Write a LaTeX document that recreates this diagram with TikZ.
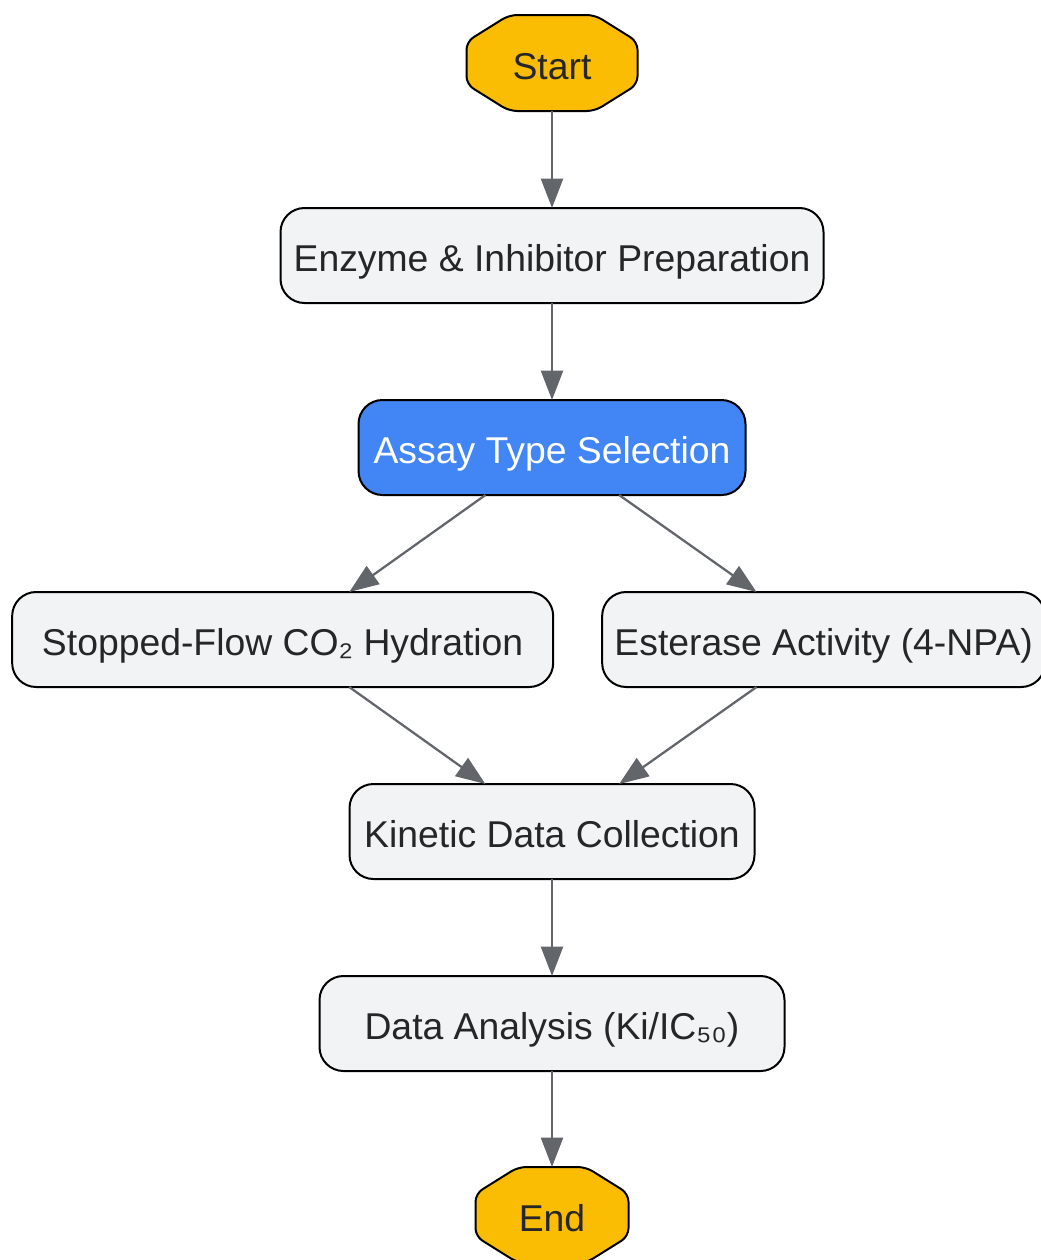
\documentclass[tikz,border=0pt]{standalone}
\usepackage{fontspec}
\setmainfont{Liberation Sans}
\usetikzlibrary{positioning,calc,arrows.meta,backgrounds}

\definecolor{gyellow}{HTML}{FBBC04}
\definecolor{gblue}{HTML}{4285F4}
\definecolor{boxgrey}{HTML}{F1F3F4}
\definecolor{linegrey}{HTML}{62666B}
\definecolor{txtgrey}{HTML}{262626}

\begin{document}
\begin{tikzpicture}[
font=\fontsize{28}{32}\selectfont,
node distance=72.75pt,
box/.style={rectangle, rounded corners=18pt, draw=black, line width=1.5pt, fill=boxgrey, text=txtgrey, minimum height=71.25pt, inner xsep=6pt, outer sep=0pt, text height=26pt, text depth=1.5pt},
selectbox/.style={box, fill=gblue, text=white},
terminal/.style={rectangle, text=txtgrey, minimum height=72pt, outer sep=0pt, text height=26pt, text depth=1.5pt},
octa/.style={draw=black, line width=1.5pt, fill=gyellow, rounded corners=6pt},
flow/.style={draw=linegrey, line width=1.7pt, -{Triangle[length=22pt,width=16.5pt]}},
]
\useasboundingbox (0,0) rectangle (780.75pt,-945pt);

% main column
\node[terminal, minimum width=128.25pt](start) at (414pt,-47.25pt){Start};
\node[box, minimum width=407.25pt](prep)[below=of start]{Enzyme \& Inhibitor Preparation};
\node[selectbox, minimum width=290.25pt](assay)[below=of prep]{Assay Type Selection};

% the two assays
\node[box, minimum width=405.75pt](stopped)[below=of assay, xshift=-202pt]{Stopped-Flow CO₂ Hydration};
\node[box, minimum width=332.25pt](esterase)[right=36.75pt of stopped]{Esterase Activity (4-NPA)};

\node[box, minimum width=303.75pt](kinetic)[below=of stopped, xshift=202pt]{Kinetic Data Collection};
\node[box, minimum width=348.75pt](analysis)[below=of kinetic]{Data Analysis (Ki/IC₅₀)};
\node[terminal, minimum width=114.75pt](finish)[below=72pt of analysis]{End};

% octagon outline behind start / end
\begin{scope}[on background layer]
\foreach \t in {start,finish}
  \draw[octa] ($(\t.north west)+(32pt,0)$) -- ($(\t.north east)+(-32pt,0)$)
    -- ($(\t.north east)+(0,-20pt)$) -- ($(\t.south east)+(0,20pt)$)
    -- ($(\t.south east)+(-32pt,0)$) -- ($(\t.south west)+(32pt,0)$)
    -- ($(\t.south west)+(0,20pt)$) -- ($(\t.north west)+(0,-20pt)$) -- cycle;
\end{scope}

% arrows
\draw[flow] (start) -- (prep);
\draw[flow] (prep) -- (assay);
\draw[flow] (assay) -- (stopped);
\draw[flow] (assay) -- (esterase);
\draw[flow] (stopped) -- (kinetic);
\draw[flow] (esterase) -- (kinetic);
\draw[flow] (kinetic) -- (analysis);
\draw[flow] (analysis) -- (finish);

\end{tikzpicture}
\end{document}
